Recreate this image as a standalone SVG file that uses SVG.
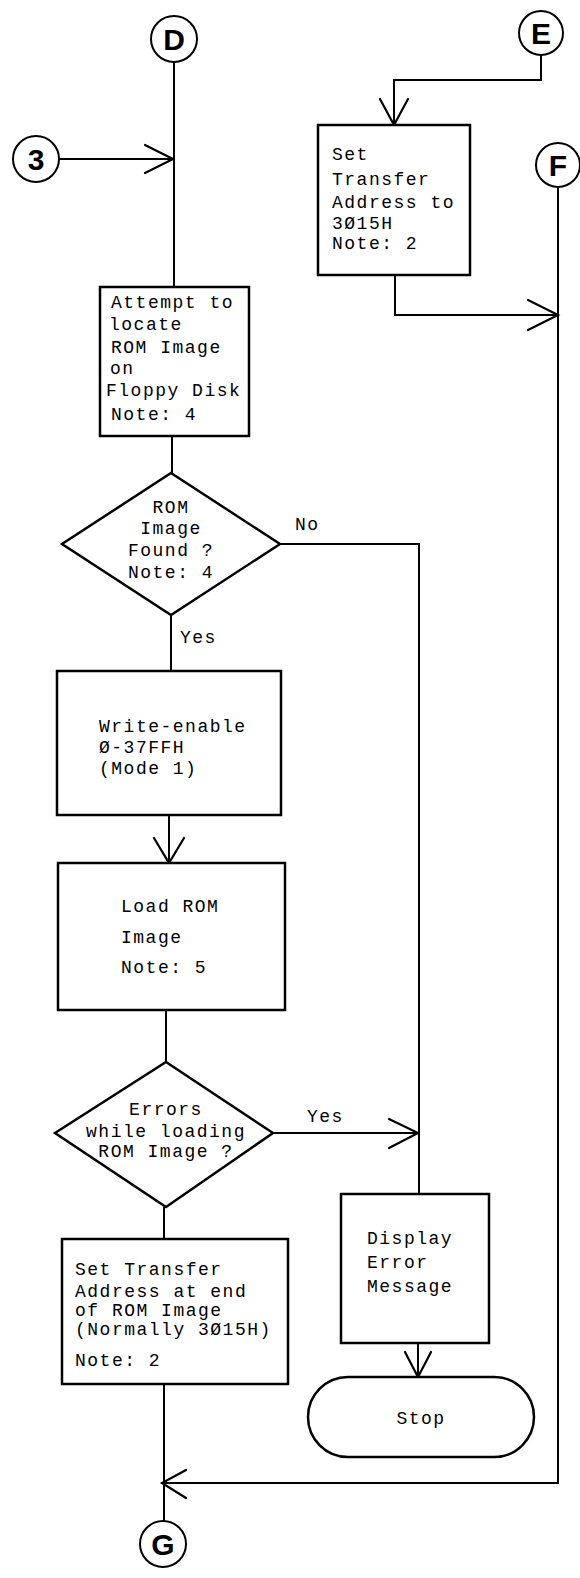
<svg xmlns="http://www.w3.org/2000/svg" width="580" height="1578" viewBox="0 0 580 1578">
<style>
.bg{fill:#fff}
.box{fill:#fff;stroke:#000;stroke-width:2.5}
.ln{fill:none;stroke:#000;stroke-width:2}
.arr{fill:none;stroke:#000;stroke-width:2.2;stroke-linecap:round;stroke-linejoin:miter}
.con{fill:#fff;stroke:#000;stroke-width:2}
.t{font-family:"Liberation Mono","DejaVu Sans Mono",monospace;font-size:18px;letter-spacing:1.5px;fill:#000}
.m{text-anchor:middle}
.c{font-family:"Liberation Sans",Arial,sans-serif;font-weight:bold;font-size:30px;text-anchor:middle;fill:#000}
</style>
<rect class="bg" x="0" y="0" width="580" height="1578"/>
<g id="connectors">
  <path class="ln" d="M174,62 V287"/>
  <path class="ln" d="M59,159 H173"/>
  <path class="arr" d="M145,145 L173,159 L145,173"/>
  <path class="ln" d="M541,56 V80 H394 V125"/>
  <path class="arr" d="M380,99 L394,125 L408,99"/>
  <path class="ln" d="M395,275 V315 H558"/>
  <path class="arr" d="M528,300 L558,315 L528,330"/>
  <path class="ln" d="M172,436 V473"/>
  <path class="ln" d="M280,544 H419 V1194"/>
  <path class="ln" d="M171,615 V671"/>
  <path class="ln" d="M169,815 V863"/>
  <path class="arr" d="M154,838 L169,863 L184,838"/>
  <path class="ln" d="M166,1010 V1062"/>
  <path class="ln" d="M273,1133 H418"/>
  <path class="arr" d="M389,1119 L418,1133 L389,1148"/>
  <path class="ln" d="M164,1207 V1239"/>
  <path class="ln" d="M418,1343 V1377"/>
  <path class="arr" d="M405,1352 L418,1377 L431,1352"/>
  <path class="ln" d="M164,1384 V1521"/>
  <path class="ln" d="M558,188 V1483 H162"/>
  <path class="arr" d="M186,1470 L162,1483 L186,1498"/>
  <text class="t" x="295" y="530">No</text>
  <text class="t" x="180" y="643">Yes</text>
  <text class="t" x="307" y="1122">Yes</text>
</g>
<g id="nodeD"><circle class="con" cx="174" cy="39" r="23"/><text class="c" x="174" y="50">D</text></g>
<g id="node3"><circle class="con" cx="36" cy="159" r="23"/><text class="c" x="36" y="170">3</text></g>
<g id="nodeE"><circle class="con" cx="541" cy="33" r="22"/><text class="c" x="541" y="44">E</text></g>
<g id="nodeF"><circle class="con" cx="558" cy="165" r="22"/><text class="c" x="558" y="176">F</text></g>
<g id="nodeG"><circle class="con" cx="163" cy="1544" r="23"/><text class="c" x="163" y="1555">G</text></g>
<g id="setTransferE">
  <rect class="box" x="318" y="125" width="152" height="150"/>
  <text class="t" x="332" y="160">Set</text>
  <text class="t" x="332" y="185">Transfer</text>
  <text class="t" x="332" y="208">Address to</text>
  <text class="t" x="332" y="229">3Ø15H</text>
  <text class="t" x="332" y="249">Note: 2</text>
</g>
<g id="attempt">
  <rect class="box" x="100" y="287" width="149" height="149"/>
  <text class="t" x="111" y="308">Attempt to</text>
  <text class="t" x="109" y="330">locate</text>
  <text class="t" x="111" y="353">ROM Image</text>
  <text class="t" x="110" y="374">on</text>
  <text class="t" x="106" y="396">Floppy Disk</text>
  <text class="t" x="111" y="420">Note: 4</text>
</g>
<g id="romFound">
  <polygon class="box" points="171,473 280,544 171,615 62,544"/>
  <text class="t m" x="171" y="513">ROM</text>
  <text class="t m" x="171" y="534">Image</text>
  <text class="t m" x="171" y="556">Found ?</text>
  <text class="t m" x="171" y="578">Note: 4</text>
</g>
<g id="writeEnable">
  <rect class="box" x="57" y="671" width="224" height="144"/>
  <text class="t" x="99" y="732">Write-enable</text>
  <text class="t" x="99" y="753">Ø-37FFH</text>
  <text class="t" x="99" y="774">(Mode 1)</text>
</g>
<g id="loadRom">
  <rect class="box" x="58" y="863" width="227" height="147"/>
  <text class="t" x="121" y="912">Load ROM</text>
  <text class="t" x="121" y="943">Image</text>
  <text class="t" x="121" y="973">Note: 5</text>
</g>
<g id="errors">
  <polygon class="box" points="166,1062 273,1133 166,1207 55,1133"/>
  <text class="t m" x="166" y="1115">Errors</text>
  <text class="t m" x="166" y="1137">while loading</text>
  <text class="t m" x="166" y="1157">ROM Image ?</text>
</g>
<g id="setTransferEnd">
  <rect class="box" x="62" y="1239" width="226" height="145"/>
  <text class="t" x="75" y="1275">Set Transfer</text>
  <text class="t" x="75" y="1297">Address at end</text>
  <text class="t" x="75" y="1316">of ROM Image</text>
  <text class="t" x="75" y="1335">(Normally 3Ø15H)</text>
  <text class="t" x="75" y="1366">Note: 2</text>
</g>
<g id="displayError">
  <rect class="box" x="341" y="1194" width="148" height="149"/>
  <text class="t" x="367" y="1244">Display</text>
  <text class="t" x="367" y="1268">Error</text>
  <text class="t" x="367" y="1292">Message</text>
</g>
<g id="stop">
  <rect class="box" x="308" y="1377" width="226" height="80" rx="40" ry="40"/>
  <text class="t m" x="421" y="1424">Stop</text>
</g>
</svg>
